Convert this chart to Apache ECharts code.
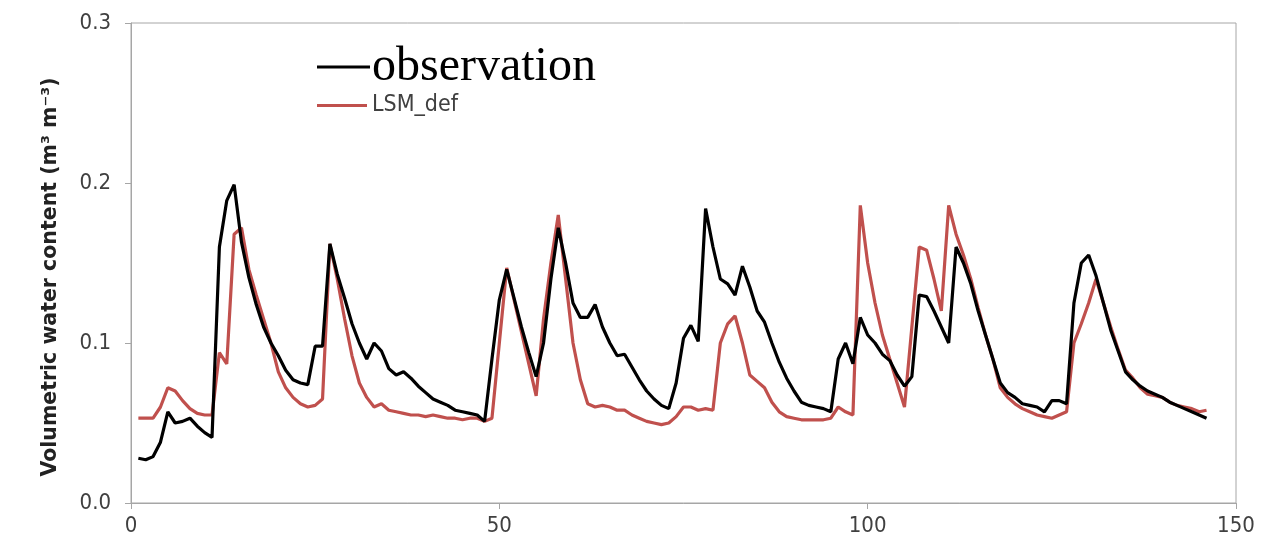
<!DOCTYPE html>
<html>
<head>
<meta charset="utf-8">
<script src="https://cdn.jsdelivr.net/npm/echarts@6/dist/echarts.min.js"></script>
<style>
  html, body { margin: 0; padding: 0; background: #fff; }
  #chart { width: 1264px; height: 557px; }
</style>
</head>
<body>
<div id="chart"></div>
<script>
// Day index (1..146)
const days = Array.from({ length: 146 }, (_, i) => i + 1);

// Observed soil moisture (m3 m-3)
const observation = [
  0.028, 0.027, 0.029, 0.038, 0.057, 0.050, 0.051, 0.053, 0.048, 0.044,
  0.041, 0.160, 0.189, 0.199, 0.163, 0.141, 0.124, 0.110, 0.100, 0.092,
  0.083, 0.077, 0.075, 0.074, 0.098, 0.098, 0.162, 0.143, 0.128, 0.112,
  0.100, 0.090, 0.100, 0.095, 0.084, 0.080, 0.082, 0.078, 0.073, 0.069,
  0.065, 0.063, 0.061, 0.058, 0.057, 0.056, 0.055, 0.051, 0.090, 0.127,
  0.146, 0.128, 0.110, 0.094, 0.079, 0.100, 0.140, 0.172, 0.150, 0.125,
  0.116, 0.116, 0.124, 0.110, 0.100, 0.092, 0.093, 0.085, 0.077, 0.070,
  0.065, 0.061, 0.059, 0.075, 0.103, 0.111, 0.101, 0.184, 0.160, 0.140,
  0.137, 0.130, 0.148, 0.135, 0.120, 0.113, 0.100, 0.088, 0.078, 0.070,
  0.063, 0.061, 0.060, 0.059, 0.057, 0.090, 0.100, 0.087, 0.116, 0.105,
  0.100, 0.093, 0.089, 0.080, 0.073, 0.079, 0.130, 0.129, 0.120, 0.110,
  0.100, 0.160, 0.150, 0.137, 0.120, 0.105, 0.090, 0.075, 0.069, 0.066,
  0.062, 0.061, 0.060, 0.057, 0.064, 0.064, 0.062, 0.125, 0.150, 0.155,
  0.142, 0.125, 0.108, 0.095, 0.082, 0.077, 0.073, 0.070, 0.068, 0.066,
  0.063, 0.061, 0.059, 0.057, 0.055, 0.053
];

// Simulated soil moisture, default land surface model
const lsmDef = [
  0.053, 0.053, 0.053, 0.060, 0.072, 0.070, 0.064, 0.059, 0.056, 0.055,
  0.055, 0.094, 0.087, 0.168, 0.172, 0.146, 0.130, 0.115, 0.100, 0.082,
  0.072, 0.066, 0.062, 0.060, 0.061, 0.065, 0.162, 0.140, 0.115, 0.092,
  0.075, 0.066, 0.060, 0.062, 0.058, 0.057, 0.056, 0.055, 0.055, 0.054,
  0.055, 0.054, 0.053, 0.053, 0.052, 0.053, 0.053, 0.051, 0.053, 0.100,
  0.147, 0.127, 0.107, 0.087, 0.067, 0.115, 0.150, 0.180, 0.140, 0.100,
  0.077, 0.062, 0.060, 0.061, 0.060, 0.058, 0.058, 0.055, 0.053, 0.051,
  0.050, 0.049, 0.050, 0.054, 0.060, 0.060, 0.058, 0.059, 0.058, 0.100,
  0.112, 0.117, 0.100, 0.080, 0.076, 0.072, 0.063, 0.057, 0.054, 0.053,
  0.052, 0.052, 0.052, 0.052, 0.053, 0.060, 0.057, 0.055, 0.186, 0.150,
  0.125, 0.105, 0.090, 0.075, 0.060, 0.110, 0.160, 0.158, 0.140, 0.120,
  0.186, 0.168, 0.155, 0.140, 0.122, 0.105, 0.090, 0.072, 0.066, 0.062,
  0.059, 0.057, 0.055, 0.054, 0.053, 0.055, 0.057, 0.100, 0.112, 0.125,
  0.140, 0.125, 0.110, 0.096, 0.083, 0.078, 0.072, 0.068, 0.067, 0.066,
  0.063, 0.061, 0.060, 0.059, 0.057, 0.058
];

// Axis tick values
const xTicks = [0, 50, 100, 150];
const yTicks = [0.0, 0.1, 0.2, 0.3];

const pair = (xs, ys) => xs.map((x, i) => [x, ys[i]]);

const labelFont = 'DejaVu Sans Condensed, DejaVu Sans, sans-serif';

const chart = echarts.init(document.getElementById('chart'));
chart.setOption({
  animation: false,
  backgroundColor: '#ffffff',
  grid: {
    left: 131, right: 28, top: 23, bottom: 54,
    show: true, borderColor: '#a6a6a6', borderWidth: 1, backgroundColor: 'transparent'
  },
  legend: [
    {
      data: ['observation'],
      left: 312, top: 38,
      icon: 'rect', itemWidth: 53, itemHeight: 3, itemGap: 4,
      textStyle: { fontFamily: 'Liberation Serif', fontSize: 48, color: '#000', padding: [0, 0, 0, -3] }
    },
    {
      data: ['LSM_def'],
      left: 312, top: 89,
      icon: 'rect', itemWidth: 50, itemHeight: 3, itemGap: 4,
      textStyle: { fontFamily: labelFont, fontSize: 23, color: '#404040' }
    }
  ],
  xAxis: {
    type: 'value',
    min: xTicks[0], max: xTicks[xTicks.length - 1], interval: 50,
    axisLine: { show: true, lineStyle: { color: '#a6a6a6', width: 1 } },
    axisTick: { show: true, length: 6, lineStyle: { color: '#a6a6a6' } },
    splitLine: { show: false },
    axisLabel: { fontFamily: labelFont, fontSize: 22, color: '#404040', margin: 12 }
  },
  yAxis: {
    type: 'value',
    min: yTicks[0], max: yTicks[yTicks.length - 1], interval: 0.1,
    name: 'Volumetric water content (m\u00b3 m\u207b\u00b3)',
    nameLocation: 'middle', nameGap: 70, nameRotate: 90,
    nameTextStyle: {
      fontFamily: 'DejaVu Sans', fontSize: 20.5, fontWeight: 'bold', color: '#222',
      padding: [0, 28, 0, 0]
    },
    axisLine: { show: true, lineStyle: { color: '#a6a6a6', width: 1 } },
    axisTick: { show: true, length: 6, lineStyle: { color: '#a6a6a6' } },
    splitLine: { show: false },
    axisLabel: {
      fontFamily: labelFont, fontSize: 22, color: '#404040', margin: 20,
      formatter: v => v.toFixed(1)
    }
  },
  series: [
    {
      name: 'LSM_def', type: 'line', data: pair(days, lsmDef),
      showSymbol: false, symbol: 'none',
      lineStyle: { color: '#c0504d', width: 3.2 }, itemStyle: { color: '#c0504d' }, z: 2
    },
    {
      name: 'observation', type: 'line', data: pair(days, observation),
      showSymbol: false, symbol: 'none',
      lineStyle: { color: '#000000', width: 3.2 }, itemStyle: { color: '#000000' }, z: 3
    }
  ]
});
</script>
</body>
</html>
